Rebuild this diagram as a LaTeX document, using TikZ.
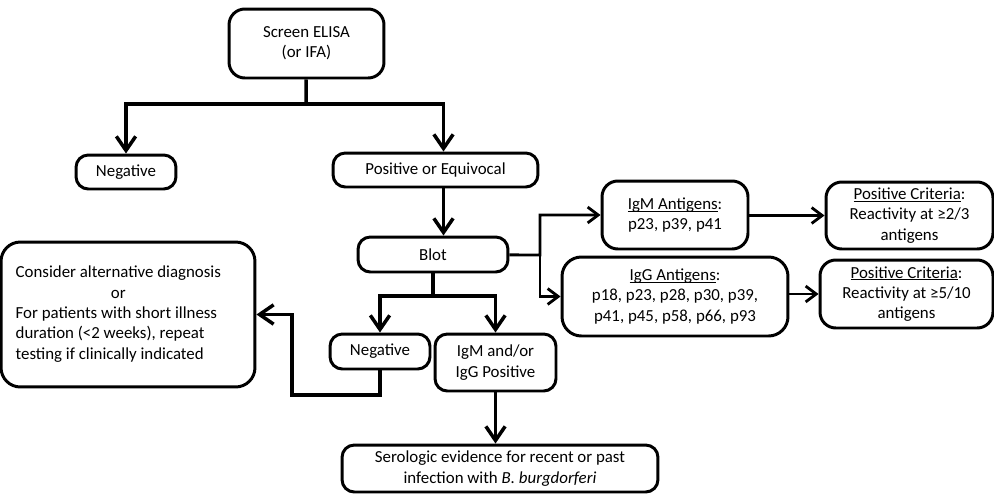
\documentclass[tikz,border=0pt]{standalone}
\usepackage{fontspec}
\setmainfont{Carlito}
\usetikzlibrary{arrows.meta}
\newcommand{\uln}[1]{\setbox0\hbox{#1}\rlap{\rule[-1.3pt]{\wd0}{0.5pt}}\box0}
\begin{document}
\begin{tikzpicture}[x=0.02cm,y=-0.02cm,
	box/.style={draw,line width=1.7pt,rounded corners=7pt,align=center,inner sep=2pt},
	arr/.style={line width=2pt,-{Straight Barb[length=8pt,width=11pt]}},
	sarr/.style={line width=1.6pt,-{Straight Barb[length=6pt,width=9pt]}},
	font=\fontsize{9.6}{11.6}\selectfont]
	\useasboundingbox (0,0) rectangle (994,494);
	\node[box,minimum width=3.10cm,minimum height=1.38cm,rounded corners=9pt] (scr) at (306.5,43.5) {Screen ELISA\\(or IFA)};
	\node[box,minimum width=2cm,minimum height=0.68cm] (neg1) at (126,172) {Negative};
	\node[box,minimum width=4.1cm,minimum height=0.68cm] (pos) at (435.5,170) {Positive or Equivocal};
	\node[box,minimum width=3cm,minimum height=0.7cm] (blot) at (433,254.5) {Blot};
	\node[box,minimum width=5.08cm,minimum height=2.9cm,rounded corners=11pt] (cons) at (128,314.5) {\begin{tabular}{@{}l@{}}Consider alternative diagnosis\\ \multicolumn{1}{@{}c@{}}{or}\\ For patients with short illness\\ duration (<2 weeks), repeat\\ testing if clinically indicated\end{tabular}\hspace*{11pt}};
	\node[box,minimum width=2cm,minimum height=0.7cm] (neg2) at (380,351.5) {Negative};
	\node[box,minimum width=2.42cm,minimum height=1.14cm] (igpos) at (495.5,362.5) {IgM and/or\\IgG Positive};
	\node[box,minimum width=6.32cm,minimum height=0.94cm] (sero) at (500,468.5) {Serologic evidence for recent or past\\infection with \textit{B. burgdorferi}};
	\node[box,minimum width=2.92cm,minimum height=1.36cm,rounded corners=9pt] (igm) at (675,215) {\uln{IgM Antigens}:\\p23, p39, p41};
	\node[box,minimum width=3.34cm,minimum height=1.34cm,rounded corners=9pt] (crit1) at (909.5,215.5) {\uln{Positive Criteria}:\\Reactivity at ≥2/3\\antigens};
	\node[box,minimum width=4.52cm,minimum height=1.58cm,rounded corners=11pt] (igg) at (675,296.5) {\uln{IgG Antigens}:\\p18, p23, p28, p30, p39,\\p41, p45, p58, p66, p93};
	\node[box,minimum width=3.46cm,minimum height=1.36cm,rounded corners=9pt] (crit2) at (906.5,294) {\uln{Positive Criteria}:\\Reactivity at ≥5/10\\antigens};

	\coordinate (s1) at (306,104);
	\coordinate (s2) at (433,296);
	\coordinate (s3) at (540,255);
	\coordinate (ret) at (292,395);
	\draw[arr] (scr) -- (s1) -| (neg1);
	\draw[arr] (s1) -| ([xshift=0.16cm]pos.north);
	\draw[arr] ([xshift=0.16cm]pos.south) -- ([xshift=0.16cm]pos.south |- blot.north);
	\draw[arr] (blot) -- (s2) -| (neg2);
	\draw[arr] (s2) -| (igpos);
	\draw[arr] (neg2) |- (ret) |- (cons.east);
	\draw[arr] (igpos.south) -- (igpos.south |- sero.north);
	\draw[sarr] (blot) -- (s3) |- (igm);
	\draw[sarr] (s3) |- (igg);
	\draw[sarr] (igm.east |- crit1) -- (crit1.west);
	\draw[sarr] (igg.east |- crit2) -- (crit2.west);
\end{tikzpicture}
\end{document}
